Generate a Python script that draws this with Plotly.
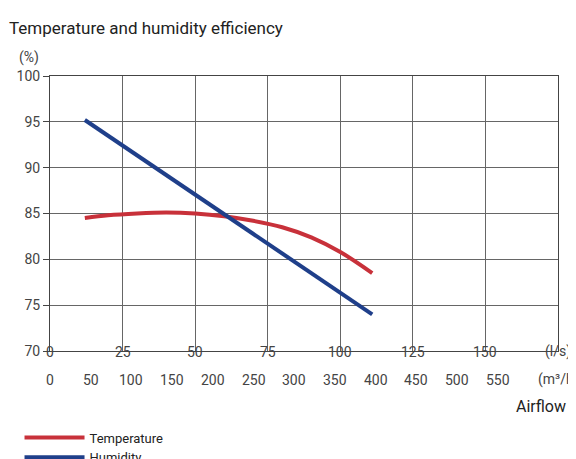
import plotly.graph_objects as go

# airflow in l/s
temp_x = [12, 20, 30, 40, 50, 60, 70, 80, 90, 100, 111]
temp_y = [84.5, 84.8, 85.0, 85.1, 85.0, 84.7, 84.2, 83.5, 82.4, 80.8, 78.5]
hum_x = [12, 111]
hum_y = [95.2, 74.0]

ls_ticks = [0, 25, 50, 75, 100, 125, 150]
m3h_labels = [0, 50, 100, 150, 200, 250, 300, 350, 400, 450, 500, 550]

fig = go.Figure()
fig.add_trace(go.Scatter(x=temp_x, y=temp_y, mode="lines", name="Temperature",
                         line=dict(color="#c8313a", width=4, shape="spline")))
fig.add_trace(go.Scatter(x=hum_x, y=hum_y, mode="lines", name="Humidity",
                         line=dict(color="#1f3f8a", width=4)))

font = dict(family="Roboto", size=14, color="#444")
anns = []
for v in ls_ticks:
    anns.append(dict(x=v, y=-0.04, xref="x", yref="paper", text=str(v),
                     showarrow=False, font=font))
for v in m3h_labels:
    anns.append(dict(x=v * 175 / 624, y=-0.14, xref="x", yref="paper",
                     text=str(v), showarrow=False, font=font))
anns += [
    dict(x=175, y=-0.04, xref="x", yref="paper", text="(l/s)", showarrow=False,
         xanchor="center", font=font),
    dict(x=175, y=-0.14, xref="x", yref="paper", text="(m³/h)", showarrow=False,
         xanchor="center", font=font),
    dict(x=1.02, y=-0.245, xref="paper", yref="paper", text="Airflow", showarrow=False,
         xanchor="right", font=dict(family="Roboto", size=16, color="#222")),
    dict(x=-0.065, y=1.03, xref="paper", yref="paper", text="(%)", showarrow=False,
         xanchor="left", yanchor="bottom", font=font),
    dict(x=-0.085, y=1.13, xref="paper", yref="paper",
         text="Temperature and humidity efficiency", showarrow=False,
         xanchor="left", yanchor="bottom", font=dict(family="Roboto", size=17, color="#222")),
]

fig.update_layout(
    width=576, height=459,
    margin=dict(l=42, r=26, t=68, b=116, autoexpand=False),
    paper_bgcolor="white", plot_bgcolor="white",
    xaxis=dict(range=[0, 175], tickvals=ls_ticks, showticklabels=False, showgrid=True,
               gridcolor="#666", gridwidth=1, showline=True, linecolor="#444",
               mirror=True, zeroline=False, ticks="", automargin=False),
    yaxis=dict(range=[70, 100], dtick=5, showgrid=True, gridcolor="#666",
               showline=True, linecolor="#444", mirror=True, zeroline=False,
               tickfont=font, ticks="outside", ticklen=6, tickcolor="#444",
               automargin=False),
    annotations=anns,
    legend=dict(x=-0.06, y=-0.26, xanchor="left", yanchor="top",
                font=dict(family="Roboto", size=13, color="#222"),
                tracegroupgap=0, itemwidth=60, bgcolor="rgba(0,0,0,0)"),
)

fig.write_html("out.html")
